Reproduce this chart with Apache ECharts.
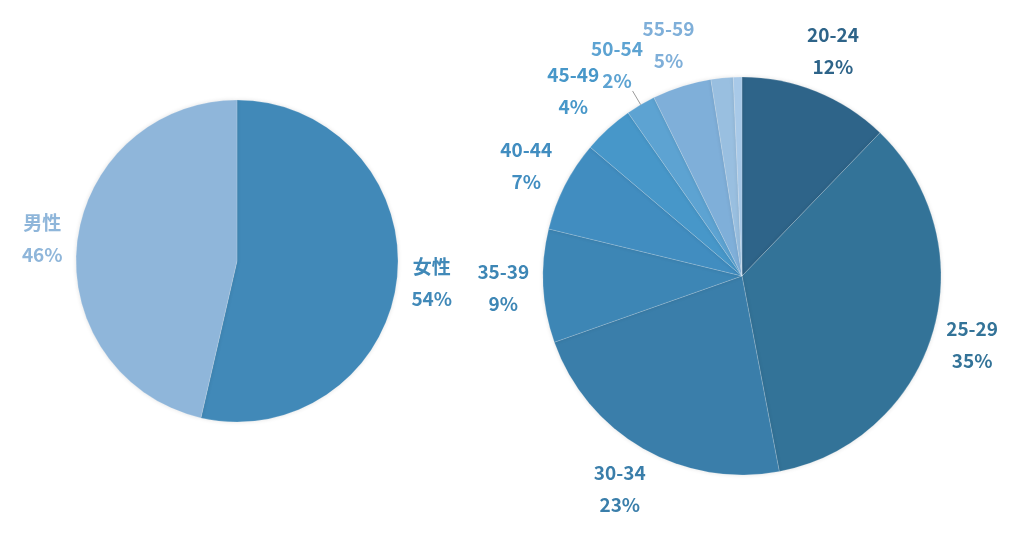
<!DOCTYPE html>
<html>
<head>
<meta charset="utf-8">
<script src="https://cdn.jsdelivr.net/npm/echarts@6/dist/echarts.min.js"></script>
<style>
  html, body { margin: 0; padding: 0; background: #fff; }
  #chart { width: 1024px; height: 553px; }
</style>
</head>
<body>
<div id="chart"></div>
<script>
// 性別
const genderNames = ['女性', '男性']
const genderValues = [53.6, 46.4]
const genderColors = ['#4189b8', '#8fb6da']

// 年齢層
const ageNames = ['20-24', '25-29', '30-34', '35-39', '40-44', '45-49', '50-54', '55-59', '60-64', '65-']
const ageValues = [12.2, 34.8, 22.6, 9.2, 7.4, 4.1, 2.4, 4.8, 1.8, 0.7]
const ageColors = ['#2e6489', '#337398', '#3a7eaa', '#3d86b5', '#418dc0', '#4797c9', '#5da3d2', '#7fafd9', '#99bfe0', '#a8c9e8']
const ageShowLabel = [true, true, true, true, true, true, true, true, false, false]

const font = '"Noto Sans CJK JP", "Noto Sans", sans-serif'
const ageCenter = [742, 276]
const ageRadius = 199

let chart = echarts.init(document.getElementById('chart'))

function pieData(names, values, colors) {
  return names.map((n, i) => ({ name: n, value: values[i], itemStyle: { color: colors[i] } }))
}

// ラベル用の透明な扇形
function labelData(names, values, colors, show) {
  return names.map((n, i) => ({
    name: n,
    value: values[i],
    label: { show: show ? show[i] : true, color: colors[i] }
  }))
}

const labelText = {
  fontFamily: font,
  fontWeight: 'bold',
  fontSize: 19,
  lineHeight: 32,
  align: 'center',
  overflow: 'none',
  formatter: p => p.name + '\n' + Math.round(p.percent) + '%'
}

const sliceStyle = {
  borderColor: 'rgba(255,255,255,0.35)',
  borderWidth: 0.5,
  shadowBlur: 4,
  shadowColor: 'rgba(0,0,0,0.12)'
}

let ageSlices = pieData(ageNames, ageValues, ageColors)
// 50-54 の引き出し線
ageSlices[6].label = { show: true, position: 'outside', formatter: ' ' }
ageSlices[6].labelLine = { show: true, length: 16, length2: 0, lineStyle: { color: '#9a9a9a', width: 1 } }

// 扇形の中央方向に、ラベルの枠が外周から少し離れて接するように置く
function placeOutside(p) {
  let pts = p.labelLinePoints
  if (!pts) return {}
  let dx = pts[0][0] - ageCenter[0]
  let dy = pts[0][1] - ageCenter[1]
  let len = Math.sqrt(dx * dx + dy * dy)
  let ux = dx / len, uy = dy / len
  let hw = p.labelRect.width / 2, hh = 28
  let t = Math.min(Math.abs(ux) > 1e-6 ? hw / Math.abs(ux) : 1e9, Math.abs(uy) > 1e-6 ? hh / Math.abs(uy) : 1e9)
  let d = ageRadius + 14 + t
  return { x: ageCenter[0] + ux * d, y: ageCenter[1] + uy * d, align: 'center', verticalAlign: 'middle' }
}

let option = {
  animation: false,
  series: [
    {
      type: 'pie',
      center: [237, 261],
      radius: 161,
      startAngle: 90,
      silent: true,
      label: { show: false },
      labelLine: { show: false },
      itemStyle: sliceStyle,
      data: pieData(genderNames, genderValues, genderColors)
    },
    {
      type: 'pie',
      center: [237, 261],
      radius: [186, 200],
      startAngle: 90,
      silent: true,
      itemStyle: { color: 'transparent', borderWidth: 0 },
      label: Object.assign({ position: 'inside' }, labelText),
      labelLine: { show: false },
      data: labelData(genderNames, genderValues, genderColors)
    },
    {
      type: 'pie',
      center: ageCenter,
      radius: ageRadius,
      startAngle: 90,
      silent: true,
      avoidLabelOverlap: false,
      label: { show: false },
      labelLine: { show: false },
      itemStyle: sliceStyle,
      data: ageSlices
    },
    {
      type: 'pie',
      center: ageCenter,
      radius: [ageRadius - 4, ageRadius],
      startAngle: 90,
      silent: true,
      avoidLabelOverlap: false,
      itemStyle: { color: 'transparent', borderWidth: 0 },
      label: Object.assign({ position: 'outside' }, labelText),
      labelLine: { show: true, length: 0, length2: 0, lineStyle: { opacity: 0 } },
      labelLayout: placeOutside,
      data: labelData(ageNames, ageValues, ageColors, ageShowLabel)
    }
  ]
}
chart.setOption(option, true)
</script>
</body>
</html>
